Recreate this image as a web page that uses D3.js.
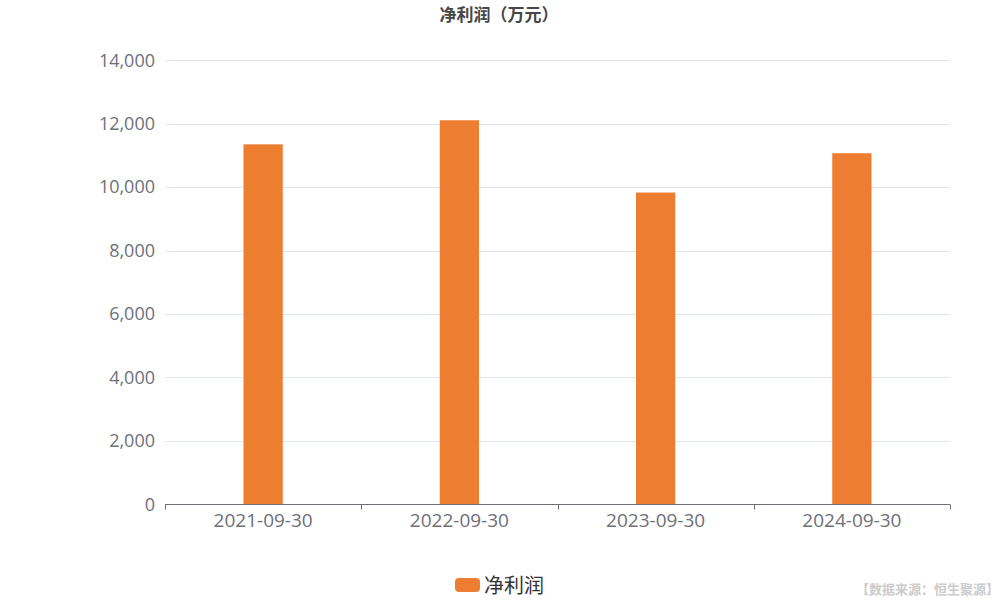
<!DOCTYPE html>
<html><head><meta charset="utf-8">
<script src="https://cdn.jsdelivr.net/npm/d3@7"></script>
<style>body{margin:0;background:#fff;} svg{display:block;}</style>
</head><body>
<svg id="c" width="1000" height="600"></svg>
<script>
const categories = ["2021-09-30", "2022-09-30", "2023-09-30", "2024-09-30"];
const netProfit = [11350, 12110, 9830, 11070];
const yTicks = [0, 2000, 4000, 6000, 8000, 10000, 12000, 14000];
const seriesName = "净利润";
const titleText = "净利润（万元）";
const sourceText = "【数据来源：恒生聚源】";

const svg = d3.select("#c");
const font = "'Open Sans','Noto Sans','Noto Sans CJK SC',sans-serif";
const m = {left:165, right:950, top:60.3, bottom:504.3};
const x = d3.scaleBand().domain(categories).range([m.left, m.right]);
const y = d3.scaleLinear().domain([0, 14000]).range([m.bottom, m.top]);

// grid
svg.append("g").selectAll("line").data(yTicks.filter(d=>d>0)).join("line")
  .attr("x1", m.left).attr("x2", m.right)
  .attr("y1", d=>Math.round(y(d))+0.5).attr("y2", d=>Math.round(y(d))+0.5)
  .attr("stroke", "#E0E6F1").attr("stroke-width", 1);

// y labels
svg.append("g").selectAll("text").data(yTicks).join("text")
  .attr("x", 155).attr("y", d=>y(d)).attr("dy", "0.35em")
  .attr("text-anchor", "end").attr("font-family", font).attr("font-size", 18)
  .attr("fill", "#6E7079").text(d=>d3.format(",")(d));

// bars
const bw = x.bandwidth()*0.2;
svg.append("g").selectAll("rect").data(categories).join("rect")
  .attr("x", d=>x(d)+x.bandwidth()/2-bw/2).attr("width", bw)
  .attr("y", (d,i)=>y(netProfit[i])).attr("height", (d,i)=>y(0)-y(netProfit[i]))
  .attr("fill", "#ED7D31");

// x axis
const xAxis = d3.axisBottom(x).tickSize(0).tickPadding(9);
const gx = svg.append("g").attr("transform", `translate(0,${Math.round(m.bottom)+0.5})`).call(xAxis);
gx.select(".domain").attr("stroke", "#6E7079").attr("d", `M${m.left},0H${m.right}`);
gx.selectAll("text").attr("font-family", font).attr("font-size", 19).attr("fill", "#6E7079");
const bounds = categories.map(c=>x(c)).concat([m.right]);
gx.append("g").selectAll("line").data(bounds).join("line")
  .attr("x1", d=>Math.round(d)+0.5).attr("x2", d=>Math.round(d)+0.5)
  .attr("y1", 0).attr("y2", 5).attr("stroke", "#6E7079");

// title
svg.append("text").attr("x", 499).attr("y", 21).attr("text-anchor", "middle")
  .attr("font-family", font).attr("font-size", 17).attr("font-weight", "bold")
  .attr("fill", "#464646").text(titleText);

// legend
svg.append("rect").attr("x", 455).attr("y", 578).attr("width", 25).attr("height", 14)
  .attr("rx", 4).attr("fill", "#ED7D31");
svg.append("text").attr("x", 484).attr("y", 586).attr("dy", "0.35em")
  .attr("font-family", font).attr("font-size", 20).attr("fill", "#333").text(seriesName);

// source
svg.append("text").attr("x", 999).attr("y", 594).attr("text-anchor", "end")
  .attr("font-family", font).attr("font-size", 13).attr("font-weight", "bold")
  .attr("fill", "#CCCCCC").text(sourceText);
</script>
</body></html>
